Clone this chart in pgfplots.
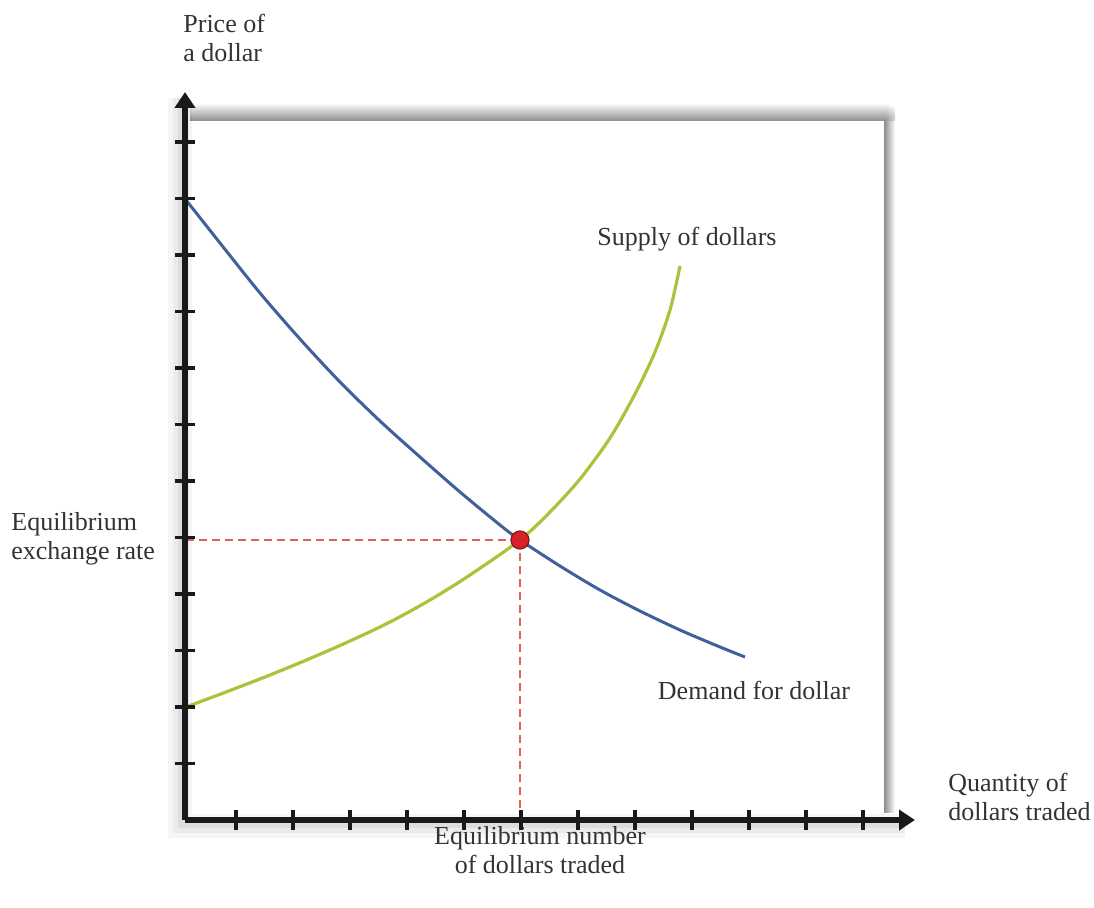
\documentclass[border=0pt]{standalone}
\usepackage{fontspec}
\setmainfont{Liberation Serif}
\usepackage{pgfplots}
\pgfplotsset{compat=1.18}
\usetikzlibrary{arrows.meta}
\definecolor{demand}{HTML}{40609C}
\definecolor{supply}{HTML}{A8C43A}
\definecolor{eqred}{HTML}{E06060}
\definecolor{dotred}{HTML}{D7222A}
\definecolor{dotedge}{HTML}{8B1515}
\definecolor{txt}{HTML}{333333}
\begin{document}
\begin{tikzpicture}
\begin{axis}[
  x=0.5pt, y=0.5pt,
  xmin=185, xmax=915, ymin=0, ymax=728,
  axis lines=left,
  axis on top,
  clip=false,
  axis line style={line width=2.7pt, black!90, -{Triangle[length=8pt,width=10pt]}},
  xtick={236,293,350,407,464,521,578,635,692,749,806,863},
  ytick={56.5,113,169.5,226,282.5,339,395.5,452,508.5,565,621.5,678},
  xticklabels={}, yticklabels={},
  tick align=center,
  major tick length=10pt,
  tick style={line width=1.8pt, black!90},
]
% invisible bounding box of the whole picture
\path (axis cs:0,-87) rectangle (axis cs:1094,820);
% shadows of the plot box
\shade[top color=white, bottom color=black!45] (axis cs:190,717) rectangle (axis cs:884,699);
\shade[left color=black!45, right color=white] (axis cs:884,699) rectangle (axis cs:895,8);
\begin{scope}
\clip (axis cs:884,699) rectangle (axis cs:895,717);
\shade[inner color=black!45, outer color=white] (axis cs:884,699) circle (9pt);
\end{scope}
% soft shadows of the axes
\draw[line width=12pt, black, opacity=0.035] (axis cs:180,722) -- (axis cs:180,-6) -- (axis cs:905,-6);
\draw[line width=8pt, black, opacity=0.045] (axis cs:181,722) -- (axis cs:181,-5) -- (axis cs:905,-5);
\draw[line width=4pt, black, opacity=0.06] (axis cs:182,722) -- (axis cs:182,-4) -- (axis cs:905,-4);

% dashed equilibrium lines
\addplot[eqred, line width=1pt, dash pattern=on 4pt off 2.5pt] coordinates {(186,280) (520,280)};
\addplot[eqred, line width=1pt, dash pattern=on 4pt off 2.5pt] coordinates {(520,280) (520,0)};

% demand
\addplot[demand, line width=1.5pt, smooth] coordinates {
(186,620) (220,577) (260,527) (300,481) (340,438) (380,399) (420,363) (460,328) (500,295) (520,280)
(560,254) (600,230) (640,209) (680,190) (720,173) (745,163)};
% supply
\addplot[supply, line width=1.6pt, smooth] coordinates {
(186,113) (230,129.5) (270,145) (310,161.5) (350,179) (390,198) (430,220) (470,245) (520,280)
(550,308) (580,341) (610,382) (635,426) (655,468) (670,510) (680,554)};

% equilibrium point
\addplot[only marks, mark=*, mark size=4.5pt, mark options={fill=dotred, draw=dotedge, line width=0.6pt}] coordinates {(520,280)};

% labels
\begin{scope}[every node/.style={text=txt, inner sep=0pt, font=\fontsize{13}{14.5}\selectfont}]
\node[anchor=west, align=left] at (axis cs:183,782) {Price of\\a dollar};
\node at (axis cs:687,581) {Supply of dollars};
\node at (axis cs:754,130) {Demand for dollar};
\node[anchor=west, align=left] at (axis cs:11,281) {Equilibrium\\exchange rate};
\node[align=center] at (axis cs:540,-30) {Equilibrium number\\of dollars traded};
\node[anchor=west, align=left] at (axis cs:948,23) {Quantity of\\dollars traded};
\end{scope}
\end{axis}
\end{tikzpicture}
\end{document}
